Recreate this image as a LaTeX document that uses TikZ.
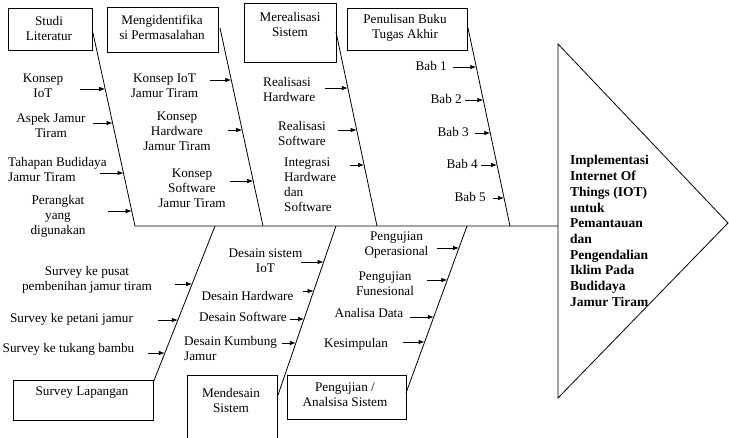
\documentclass[tikz,border=0pt]{standalone}
\usepackage{fontspec}
\setmainfont{Liberation Serif}
\usetikzlibrary{arrows.meta}
\newcommand\myarrow[4]{\coordinate (#1t) at (#2,#4); \coordinate (#1h) at (#3,#4); \draw[arr] (#1t) -- (#1h);}
\begin{document}
\begin{tikzpicture}[x=1pt,y=-1pt,
  lbl/.style={font=\fontsize{13.2}{15}\selectfont, inner sep=0pt, align=center},
  lbl1/.style={lbl, text height=9.5pt, text depth=2.5pt},
  lbll/.style={lbl, align=left},
  boxn/.style={draw, line width=0.8pt, inner sep=0pt, anchor=north west},
  bone/.style={line width=0.8pt},
  arr/.style={line width=0.8pt, -{Latex[length=6pt,width=4.5pt]}},
  goal/.style={font=\bfseries\fontsize{13.5}{15.7}\selectfont, inner sep=0pt, align=left, anchor=west}
  ]
\useasboundingbox (0,0) rectangle (729,437);
% ---- boxes
\node[boxn, minimum width=84pt, minimum height=42pt] (bstudi) at (8,8) {};
\node[boxn, minimum width=111pt, minimum height=45pt] (bident) at (107,7) {};
\node[boxn, minimum width=92pt, minimum height=59pt] (breal) at (244,3) {};
\node[boxn, minimum width=120pt, minimum height=42pt] (bbuku) at (347,8) {};
\node[boxn, minimum width=140pt, minimum height=40pt] (bsurvey) at (13,380) {};
\node[boxn, minimum width=90pt, minimum height=75pt] (bdesain) at (187,375) {};
\node[boxn, minimum width=119pt, minimum height=44pt] (buji) at (287,375) {};
% ---- box titles
\node[lbl] (tstudi) at (49,28) {Studi\\Literatur};
\node[lbl] (tident) at (162,27) {Mengidentifika\\si Permasalahan};
\node[lbl] (treal) at (290,24) {Merealisasi\\Sistem};
\node[lbl] (tbuku) at (405,28) {Penulisan Buku\\Tugas Akhir};
\node[lbl1] (tsurvey) at (82,392) {Survey Lapangan};
\node[lbl] (tdesain) at (231,400.5) {Mendesain\\Sistem};
\node[lbl] (tuji) at (345,394.5) {Pengujian /\\Analsisa Sistem};
% ---- spine, bones, head
\coordinate (b1s) at (93,33);  \coordinate (b1e) at (135,226);
\coordinate (b2s) at (220,28); \coordinate (b2e) at (263,226);
\coordinate (b3s) at (336,32); \coordinate (b3e) at (377,226);
\coordinate (b4s) at (468,28); \coordinate (b4e) at (510,226);
\coordinate (b5s) at (153,383); \coordinate (b5e) at (215,226);
\coordinate (b6s) at (278,395); \coordinate (b6e) at (336,226);
\coordinate (b7s) at (406,393); \coordinate (b7e) at (467,226);
\coordinate (t1) at (558,44); \coordinate (t2) at (728,223); \coordinate (t3) at (558,398);
\coordinate (sp) at (558,226);
\draw[bone] (b1s) -- (b1e) -- (sp);
\draw[bone] (b2s) -- (b2e);
\draw[bone] (b3s) -- (b3e);
\draw[bone] (b4s) -- (b4e);
\draw[bone] (b5s) -- (b5e);
\draw[bone] (b6s) -- (b6e);
\draw[bone] (b7s) -- (b7e);
\draw[bone] (t1) -- (t2) -- (t3) -- cycle;
\node[goal] (goal) at (570,231) {Implementasi\\Internet Of\\Things (IOT)\\untuk\\Pemantauan\\dan\\Pengendalian\\Iklim Pada\\Budidaya\\Jamur Tiram};
% ---- labels: Studi Literatur
\node[lbl] (k1) at (43,86) {Konsep\\IoT};
\node[lbl] (k2) at (51,125) {Aspek Jamur\\Tiram};
\node[lbll, anchor=west] (k3) at (8,169) {Tahapan Budidaya\\Jamur Tiram};
\node[lbl] (k4) at (58,216) {Perangkat\\yang\\digunakan};
% Mengidentifikasi
\node[lbl] (m1) at (164.5,86) {Konsep IoT\\Jamur Tiram};
\node[lbl] (m2) at (177,131) {Konsep\\Hardware\\Jamur Tiram};
\node[lbl] (m3) at (192,188) {Konsep\\Software\\Jamur Tiram};
% Merealisasi
\node[lbll, anchor=west] (r1) at (263,89.5) {Realisasi\\Hardware};
\node[lbl] (r2) at (302,133) {Realisasi\\Software};
\node[lbll, anchor=west] (r3) at (284,185) {Integrasi\\Hardware\\dan\\Software};
% Penulisan
\node[lbl1, anchor=east] (bab1) at (447,67) {Bab 1};
\node[lbl1, anchor=east] (bab2) at (462,100) {Bab 2};
\node[lbl1, anchor=east] (bab3) at (469,133) {Bab 3};
\node[lbl1, anchor=east] (bab4) at (478,165) {Bab 4};
\node[lbl1, anchor=east] (bab5) at (486,198) {Bab 5};
% Survey
\node[lbl] (s1) at (87,279.5) {Survey ke pusat\\pembenihan jamur tiram};
\node[lbl1] (s2) at (71.5,319) {Survey ke petani jamur};
\node[lbl1] (s3) at (68.5,349) {Survey ke tukang bambu};
% Desain
\node[lbl] (d1) at (265.5,260.5) {Desain sistem\\IoT};
\node[lbl1] (d2) at (247.5,297) {Desain Hardware};
\node[lbl1] (d3) at (243,318) {Desain Software};
\node[lbll, anchor=west] (d4) at (184,348) {Desain Kumbung\\Jamur};
% Pengujian
\node[lbl] (p1) at (396.5,245) {Pengujian\\Operasional};
\node[lbl] (p2) at (385,284) {Pengujian\\Funesional};
\node[lbl1] (p3) at (369,314) {Analisa Data};
\node[lbl1] (p4) at (356,344) {Kesimpulan};
% ---- arrows
\myarrow{a1}{80}{105.2}{89}
\myarrow{a2}{93}{112.6}{123}
\myarrow{a3}{100}{123.5}{173}
\myarrow{a4}{108}{131.7}{211}
\myarrow{a5}{210}{231.3}{80}
\myarrow{a6}{228}{242.2}{130}
\myarrow{a7}{230}{253.2}{181}
\myarrow{a8}{325}{347.8}{88}
\myarrow{a9}{338}{356.7}{130}
\myarrow{a10}{350}{364.1}{165}
\myarrow{a11}{453}{476.3}{67}
\myarrow{a12}{465}{483.3}{100}
\myarrow{a13}{475}{490.3}{133}
\myarrow{a14}{481}{497.1}{165}
\myarrow{a15}{493}{504.1}{198}
\myarrow{a16}{175}{192.1}{284}
\myarrow{a17}{158}{177.9}{320}
\myarrow{a18}{148}{164.8}{353}
\myarrow{a19}{301}{323.6}{262}
\myarrow{a20}{303}{313.7}{291}
\myarrow{a21}{290}{304.1}{319}
\myarrow{a22}{282}{295.8}{343}
\myarrow{a23}{437}{459.0}{248}
\myarrow{a24}{427}{447.3}{280}
\myarrow{a25}{410}{433.8}{317}
\myarrow{a26}{403}{424.6}{342}
\end{tikzpicture}
\end{document}
